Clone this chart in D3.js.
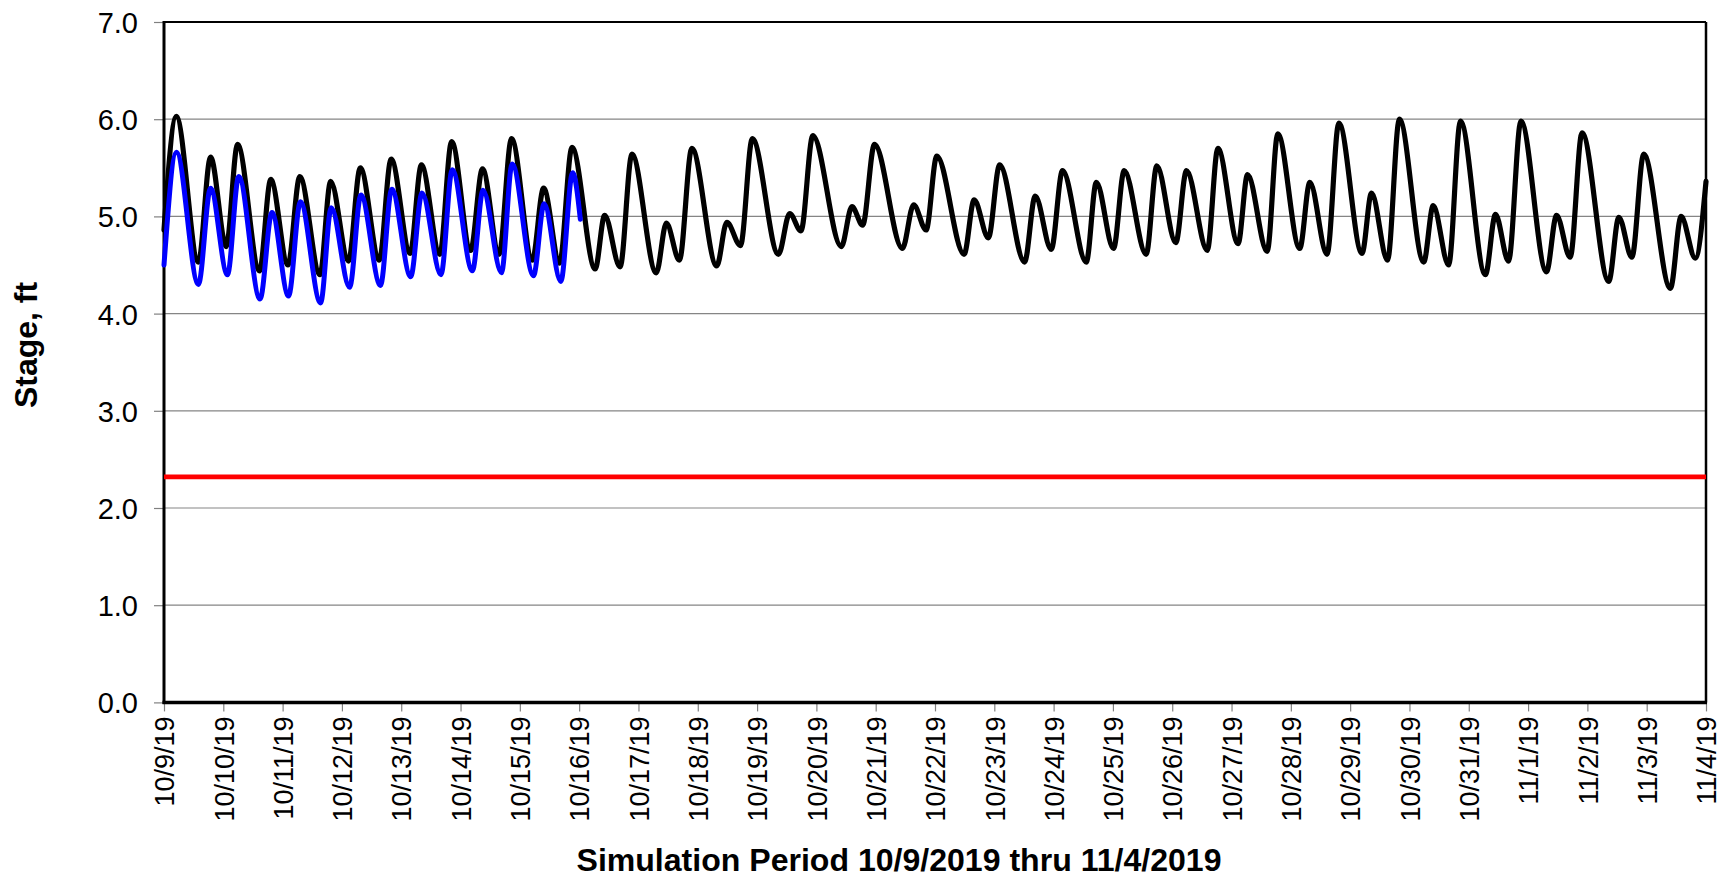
<!DOCTYPE html>
<html>
<head>
<meta charset="utf-8">
<script src="https://cdn.jsdelivr.net/npm/d3@7"></script>
<style>
  html, body { margin: 0; padding: 0; background: #fff; }
  svg { display: block; font-family: "Liberation Sans", Arial, sans-serif; }
</style>
</head>
<body>
<svg id="chart" width="1727" height="880"></svg>
<script>
// ---- Data ----
// Day offsets from 10/9/19 00:00 of high/low points
const simDays = [0, 0.207, 0.58, 0.785, 1.049, 1.24, 1.61, 1.80, 2.09, 2.29, 2.63, 2.81, 3.11, 3.31, 3.63, 3.83,
  4.15, 4.34, 4.65, 4.85, 5.17, 5.37, 5.65, 5.86, 6.21, 6.40, 6.67, 6.88, 7.27, 7.43, 7.69, 7.89, 8.30, 8.47,
  8.69, 8.90, 9.32, 9.49, 9.72, 9.92, 10.36, 10.55, 10.74, 10.94, 11.42, 11.60, 11.78, 11.98, 12.45, 12.64,
  12.85, 13.03, 13.49, 13.66, 13.90, 14.09, 14.51, 14.69, 14.96, 15.15, 15.55, 15.72, 16.01, 16.19, 16.56,
  16.74, 17.06, 17.24, 17.59, 17.77, 18.11, 18.27, 18.60, 18.78, 19.15, 19.32, 19.61, 19.81, 20.20, 20.36,
  20.63, 20.83, 21.24, 21.40, 21.66, 21.86, 22.28, 22.45, 22.67, 22.88, 23.31, 23.48, 23.71, 23.91, 24.36,
  24.53, 24.75, 24.95, 25.40, 25.58, 25.82, 26.0];
const simStage = [4.86, 6.03, 4.53, 5.61, 4.69, 5.74, 4.44, 5.38, 4.50, 5.41, 4.40, 5.36, 4.54, 5.50, 4.55, 5.59,
  4.62, 5.53, 4.61, 5.77, 4.65, 5.49, 4.61, 5.80, 4.55, 5.29, 4.52, 5.71, 4.46, 5.01, 4.48, 5.64, 4.42, 4.93,
  4.55, 5.70, 4.49, 4.94, 4.70, 5.80, 4.61, 5.03, 4.85, 5.83, 4.69, 5.10, 4.91, 5.74, 4.67, 5.12,
  4.86, 5.62, 4.61, 5.17, 4.78, 5.53, 4.53, 5.21, 4.66, 5.47, 4.53, 5.35, 4.67, 5.47, 4.61,
  5.52, 4.73, 5.47, 4.65, 5.70, 4.72, 5.43, 4.64, 5.85, 4.67, 5.35, 4.61, 5.96, 4.62, 5.24,
  4.55, 6.00, 4.53, 5.11, 4.50, 5.98, 4.40, 5.02, 4.54, 5.98, 4.43, 5.01, 4.58, 5.86, 4.33,
  4.99, 4.58, 5.64, 4.26, 5.00, 4.57, 5.36];

const obsDays = [0, 0.21, 0.58, 0.785, 1.07, 1.26, 1.62, 1.82, 2.10, 2.30, 2.64, 2.82, 3.13, 3.32, 3.65, 3.84,
  4.16, 4.35, 4.67, 4.86, 5.20, 5.38, 5.69, 5.87, 6.23, 6.41, 6.69, 6.89, 7.02];
const obsStage = [4.50, 5.66, 4.30, 5.29, 4.40, 5.41, 4.15, 5.04, 4.18, 5.15, 4.11, 5.09, 4.27, 5.22, 4.29, 5.28,
  4.38, 5.24, 4.40, 5.48, 4.44, 5.27, 4.42, 5.54, 4.39, 5.13, 4.33, 5.45, 4.97];

const thresholdDays = [0, 26];
const thresholdStage = [2.32, 2.32];

const xTickLabels = ["10/9/19", "10/10/19", "10/11/19", "10/12/19", "10/13/19", "10/14/19", "10/15/19",
  "10/16/19", "10/17/19", "10/18/19", "10/19/19", "10/20/19", "10/21/19", "10/22/19", "10/23/19",
  "10/24/19", "10/25/19", "10/26/19", "10/27/19", "10/28/19", "10/29/19", "10/30/19", "10/31/19",
  "11/1/19", "11/2/19", "11/3/19", "11/4/19"];
const yTicks = [0, 1, 2, 3, 4, 5, 6, 7];

const xTitle = "Simulation Period 10/9/2019 thru 11/4/2019";
const yTitle = "Stage, ft";

// ---- Layout ----
const L = 164, R = 1706, T = 22, B = 702.4;
const svg = d3.select("#chart");

const x = d3.scaleLinear().domain([0, xTickLabels.length - 1]).range([L, R]);
const y = d3.scaleLinear().domain([0, 7]).range([B, T]);

// gridlines
svg.append("g").selectAll("line")
  .data(yTicks.filter(d => d > 0 && d < 7))
  .join("line")
  .attr("x1", L).attr("x2", R)
  .attr("y1", d => y(d)).attr("y2", d => y(d))
  .attr("stroke", "#858585").attr("stroke-width", 1.2);

// y axis
const yAxis = svg.append("g")
  .attr("transform", `translate(${L},0)`)
  .call(d3.axisLeft(y).tickValues(yTicks).tickFormat(d3.format(".1f")).tickSize(10).tickPadding(16));
yAxis.select(".domain").remove();
yAxis.selectAll(".tick line").attr("stroke", "#808080").attr("stroke-width", 1.2);
yAxis.selectAll(".tick text").attr("font-size", 29).attr("fill", "#000")
  .attr("font-family", "Liberation Sans, Arial, sans-serif").attr("dy", "0.36em");

// x axis
const xAxis = svg.append("g")
  .attr("transform", `translate(0,${B})`)
  .call(d3.axisBottom(x).tickValues(d3.range(xTickLabels.length)).tickFormat(i => xTickLabels[i]).tickSize(9));
xAxis.select(".domain").remove();
xAxis.selectAll(".tick line").attr("stroke", "#808080").attr("stroke-width", 1.2);
xAxis.selectAll(".tick text")
  .attr("font-size", 27).attr("fill", "#000")
  .attr("font-family", "Liberation Sans, Arial, sans-serif")
  .attr("text-anchor", "end")
  .attr("x", 0).attr("y", 0).attr("dy", "0.36em")
  .attr("transform", "translate(0,14) rotate(-90)");

// frame
svg.append("line").attr("x1", L).attr("x2", R).attr("y1", T).attr("y2", T)
  .attr("stroke", "#000").attr("stroke-width", 2);
svg.append("line").attr("x1", R).attr("x2", R).attr("y1", T).attr("y2", B)
  .attr("stroke", "#000").attr("stroke-width", 2.5);
svg.append("line").attr("x1", L).attr("x2", L).attr("y1", T - 1).attr("y2", B + 1.5)
  .attr("stroke", "#000").attr("stroke-width", 3);
svg.append("line").attr("x1", L - 1.5).attr("x2", R + 1).attr("y1", B).attr("y2", B)
  .attr("stroke", "#000").attr("stroke-width", 3.5);

// series
const line = d3.line().x(d => x(d[0])).y(d => y(d[1])).curve(d3.curveMonotoneX);
const zip = (a, b) => a.map((v, i) => [v, b[i]]);

svg.append("path").datum(zip(thresholdDays, thresholdStage))
  .attr("d", d3.line().x(d => x(d[0])).y(d => y(d[1])))
  .attr("fill", "none").attr("stroke", "#ff0000").attr("stroke-width", 4.6);

svg.append("path").datum(zip(simDays, simStage))
  .attr("d", line)
  .attr("fill", "none").attr("stroke", "#000").attr("stroke-width", 5.2)
  .attr("stroke-linejoin", "round").attr("stroke-linecap", "round");

svg.append("path").datum(zip(obsDays, obsStage))
  .attr("d", line)
  .attr("fill", "none").attr("stroke", "#0000ff").attr("stroke-width", 5)
  .attr("stroke-linejoin", "round").attr("stroke-linecap", "round");

// titles
svg.append("text")
  .attr("transform", "translate(37,345) rotate(-90)")
  .attr("text-anchor", "middle")
  .attr("font-size", 32).attr("font-weight", "bold")
  .text(yTitle);

svg.append("text")
  .attr("x", 899).attr("y", 871)
  .attr("text-anchor", "middle")
  .attr("font-size", 31).attr("font-weight", "bold")
  .attr("textLength", 645).attr("lengthAdjust", "spacingAndGlyphs")
  .text(xTitle);
</script>
</body>
</html>
